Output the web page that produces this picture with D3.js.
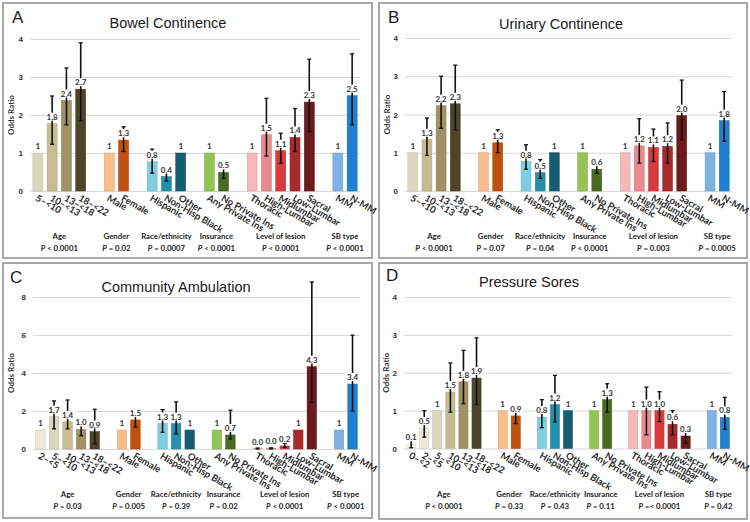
<!DOCTYPE html>
<html>
<head>
<meta charset="utf-8">
<script src="https://cdn.jsdelivr.net/npm/d3@7"></script>
<style>
  body { margin: 0; background: #fff; }
  svg { display: block; font-family: Lato, "Open Sans", sans-serif; }
  .title { font-family: "Liberation Sans", Arial, sans-serif; font-size: 14.5px; fill: #1a1a1a; }
  .letter { font-family: "Liberation Sans", Arial, sans-serif; font-size: 17px; fill: #1a1a1a; }
  .ytitle { font-size: 8px; font-weight: bold; fill: #333; }
  .tick text { font-size: 8px; font-weight: bold; fill: #333; }
  .vlabel { font-size: 8px; font-weight: bold; fill: #333; }
  .cat { font-size: 9.5px; font-weight: bold; fill: #2a2a2a; }
  .group { font-size: 7.8px; font-weight: bold; fill: #222; }
  .pval { font-size: 7.8px; font-weight: bold; fill: #222; }
</style>
</head>
<body>
<svg width="750" height="522"></svg>
<script>
// category lists
const ageBowel = ["5–<10", "10–<13", "13–<18", "18–<22"];
const ageAmbulation = ["2–<5", "5–<10", "10–<13", "13–<18", "18–<22"];
const ageSores = ["0–<2", "2–<5", "5–<10", "10–<13", "13–<18", "18–<22"];
const genderCats = ["Male", "Female"];
const raceCats = ["Hispanic", "Non-Hisp Black", "Other"];
const insuranceCats = ["Any Private Ins", "No Private Ins"];
const lesionCats = ["Thoracic", "High-Lumbar", "Midlumbar", "Low-Lumbar", "Sacral"];
const sbCats = ["MM", "N-MM"];
const groupNames = ["Age", "Gender", "Race/ethnicity", "Insurance", "Level of lesion", "SB type"];

// odds ratios with 95% CI (null = reference category)
const bowelOR   = [1, 1.77, 2.38, 2.68, 1, 1.34, 0.77, 0.38, 1, 1, 0.49, 1, 1.48, 1.06, 1.41, 2.34, 1, 2.51];
const bowelLow  = [null, 1.23, 1.74, 1.85, null, 1.04, 0.47, 0.26, null, null, 0.33, null, 0.92, 0.73, 1.04, 1.56, null, 1.74];
const bowelHigh = [null, 2.5, 3.24, 3.9, null, 1.69, 1.1, 0.5, null, null, 0.68, null, 2.44, 1.52, 2.17, 3.47, null, 3.61];
const bowelP = ["< 0.0001", "= 0.02", "= 0.0007", "< 0.0001", "< 0.0001", "< 0.0001"];

const urinaryOR   = [1, 1.34, 2.23, 2.28, 1, 1.26, 0.77, 0.48, 1, 1, 0.57, 1, 1.18, 1.14, 1.17, 1.97, 1, 1.84];
const urinaryLow  = [null, 0.93, 1.64, 1.6, null, 1.0, 0.57, 0.33, null, null, 0.46, null, 0.73, 0.77, 0.73, 1.34, null, 1.3];
const urinaryHigh = [null, 1.91, 3.0, 3.29, null, 1.6, 1.21, 0.82, null, null, 0.7, null, 1.89, 1.62, 1.78, 2.9, null, 2.6];
const urinaryP = ["< 0.0001", "= 0.07", "= 0.04", "< 0.0001", "= 0.003", "= 0.0005"];

const ambulationOR   = [1, 1.7, 1.43, 1.03, 0.92, 1, 1.53, 1.34, 1.34, 1, 1, 0.74, 0.02, 0.03, 0.16, 1, 4.33, 1, 3.42];
const ambulationLow  = [null, 1.06, 1.06, 0.7, 0.27, null, 1.15, 0.88, 0.8, null, null, 0.53, 0.0, 0.0, 0.08, null, 2.45, null, 2.0];
const ambulationHigh = [null, 2.53, 2.58, 1.45, 2.09, null, 1.95, 2.07, 2.48, null, null, 2.04, 0.05, 0.06, 0.3, null, 8.79, null, 5.99];
const ambulationP = ["= 0.03", "= 0.005", "= 0.39", "= 0.02", "< 0.0001", "< 0.0001"];

const soresOR   = [0.11, 0.54, 1, 1.49, 1.76, 1.86, 1, 0.86, 0.83, 1.16, 1, 1, 1.29, 1, 1.0, 1.0, 0.64, 0.33, 1, 0.82];
const soresLow  = [0.02, 0.3, null, 0.96, 1.18, 1.16, null, 0.66, 0.55, 0.7, null, null, 0.96, null, 0.36, 0.71, 0.36, 0.14, null, 0.51];
const soresHigh = [0.26, 1.0, null, 2.26, 2.59, 2.92, null, 1.08, 1.29, 1.93, null, null, 1.71, null, 1.62, 1.5, 1.0, 0.56, null, 1.35];
const soresP = ["< 0.0001", "= 0.33", "= 0.43", "= 0.11", "=< 0.0001", "= 0.42"];

const colors = {
  "0–<2": "#f6f3ea", "2–<5": "#ede8d8", "5–<10": "#ddd6bf", "10–<13": "#c7bb92",
  "13–<18": "#a09263", "18–<22": "#4e4528",
  "Male": "#fbbd8c", "Female": "#c0500f",
  "Hispanic": "#7dcfe1", "Non-Hisp Black": "#2491ac", "Other": "#165d74",
  "Any Private Ins": "#93c455", "No Private Ins": "#4a6b22",
  "Thoracic": "#f4b9ba", "High-Lumbar": "#e98a8c", "Midlumbar": "#d93a3d",
  "Low-Lumbar": "#a82a2d", "Sacral": "#6c1a1c",
  "MM": "#80b2e3", "N-MM": "#1f7fd0"
};

const panels = [
  { letter: "A", title: "Bowel Continence", age: ageBowel, or: bowelOR, lo: bowelLow, hi: bowelHigh, p: bowelP,
    yMax: 4, yTicks: [0, 1, 2, 3, 4], frame: [3, 3, 372, 258], xRange: [30, 360], yRange: [191, 39],
    letterPos: [12, 23], titlePos: [168, 28], yTitleX: 14 },
  { letter: "B", title: "Urinary Continence", age: ageBowel, or: urinaryOR, lo: urinaryLow, hi: urinaryHigh, p: urinaryP,
    yMax: 4, yTicks: [0, 1, 2, 3, 4], frame: [379, 3, 747, 258], xRange: [405, 732], yRange: [191, 38],
    letterPos: [388, 23], titlePos: [561, 29], yTitleX: 390 },
  { letter: "C", title: "Community Ambulation", age: ageAmbulation, or: ambulationOR, lo: ambulationLow, hi: ambulationHigh, p: ambulationP,
    yMax: 8, yTicks: [0, 2, 4, 6, 8], frame: [3, 263, 372, 518], xRange: [33, 360], yRange: [449, 297],
    letterPos: [10, 283], titlePos: [176, 292], yTitleX: 14 },
  { letter: "D", title: "Pressure Sores", age: ageSores, or: soresOR, lo: soresLow, hi: soresHigh, p: soresP,
    yMax: 4, yTicks: [0, 1, 2, 3, 4], frame: [379, 263, 747, 519], xRange: [404, 732], yRange: [448.5, 297],
    letterPos: [386, 281], titlePos: [529, 287], yTitleX: 389 }
];

const svg = d3.select("svg");

panels.forEach(drawPanel);

function drawPanel(p) {
  const g = svg.append("g");
  const groups = [p.age, genderCats, raceCats, insuranceCats, lesionCats, sbCats];

  g.append("rect")
    .attr("x", p.frame[0]).attr("y", p.frame[1])
    .attr("width", p.frame[2] - p.frame[0]).attr("height", p.frame[3] - p.frame[1])
    .attr("fill", "none").attr("stroke", "#a8a8a8").attr("stroke-width", 2);

  // blank slots between groups
  const slots = [];
  groups.forEach((cats, gi) => {
    if (gi) slots.push("gap" + gi);
    cats.forEach(c => slots.push(c));
  });

  const x = d3.scaleBand().domain(slots).range(p.xRange).paddingInner(0.3).paddingOuter(0.2);
  const y = d3.scaleLinear().domain([0, p.yMax]).range(p.yRange);
  const bw = x.bandwidth();
  const y0 = y(0);

  const yAxis = d3.axisLeft(y)
    .tickValues(p.yTicks)
    .tickSize(-(p.xRange[1] - p.xRange[0]))
    .tickPadding(7)
    .tickFormat(d3.format("d"));

  g.append("g")
    .attr("transform", `translate(${p.xRange[0]},0)`)
    .call(yAxis)
    .call(a => a.select(".domain").remove())
    .call(a => a.selectAll(".tick line").attr("stroke", "#d9d9d9"));

  g.append("text")
    .attr("class", "ytitle")
    .attr("text-anchor", "middle")
    .attr("transform", `translate(${p.yTitleX},${(p.yRange[0] + p.yRange[1]) / 2}) rotate(-90)`)
    .text("Odds Ratio");

  const rows = groups.flat().map((c, i) => ({ cat: c, or: p.or[i], lo: p.lo[i], hi: p.hi[i] }));

  g.selectAll(".bar")
    .data(rows)
    .enter().append("rect")
    .attr("class", "bar")
    .attr("x", d => x(d.cat))
    .attr("width", bw)
    .attr("y", d => y(d.or))
    .attr("height", d => y0 - y(d.or))
    .attr("fill", d => colors[d.cat])
    .attr("stroke", d => d3.color(colors[d.cat]).darker(0.4))
    .attr("stroke-width", 0.5);

  const withCI = rows.filter(d => d.lo !== null);
  const cx = d => x(d.cat) + bw / 2;

  g.selectAll(".err")
    .data(withCI)
    .enter().append("line")
    .attr("class", "err")
    .attr("x1", cx).attr("x2", cx)
    .attr("y1", d => y(d.lo)).attr("y2", d => y(d.hi))
    .attr("stroke", "#111").attr("stroke-width", 1.6);

  ["lo", "hi"].forEach(k => {
    g.selectAll(".cap-" + k)
      .data(withCI)
      .enter().append("line")
      .attr("class", "cap-" + k)
      .attr("x1", d => cx(d) - 2).attr("x2", d => cx(d) + 2)
      .attr("y1", d => y(d[k])).attr("y2", d => y(d[k]))
      .attr("stroke", "#111").attr("stroke-width", 1.3);
  });

  // value labels on a white box, covering the error line
  const lab = g.selectAll(".vl")
    .data(rows)
    .enter().append("g")
    .attr("class", "vl");

  lab.append("text")
    .attr("class", "vlabel")
    .attr("text-anchor", "middle")
    .attr("x", cx)
    .attr("y", d => y(d.or) - 4)
    .text(d => d.lo === null ? "1" : d.or.toFixed(1));

  lab.each(function() {
    const t = d3.select(this).select("text");
    const b = t.node().getBBox();
    d3.select(this).insert("rect", "text")
      .attr("x", b.x - 1).attr("y", b.y + 1)
      .attr("width", b.width + 2).attr("height", b.height - 2)
      .attr("fill", "#fff");
  });

  g.selectAll(".cat")
    .data(rows)
    .enter().append("text")
    .attr("class", "cat")
    .attr("transform", d => `translate(${cx(d) - 3},${y0 + 9}) rotate(30)`)
    .text(d => d.cat);

  groups.forEach((cats, gi) => {
    const mid = (x(cats[0]) + x(cats[cats.length - 1]) + bw) / 2;
    g.append("text")
      .attr("class", "group")
      .attr("text-anchor", "middle")
      .attr("x", mid).attr("y", y0 + 48)
      .text(groupNames[gi]);
    const pt = g.append("text")
      .attr("class", "pval")
      .attr("text-anchor", "middle")
      .attr("x", mid).attr("y", y0 + 60);
    pt.append("tspan").attr("font-style", "italic").text("P");
    pt.append("tspan").text(" " + p.p[gi]);
  });

  g.append("text")
    .attr("class", "letter")
    .attr("x", p.letterPos[0]).attr("y", p.letterPos[1])
    .text(p.letter);

  g.append("text")
    .attr("class", "title")
    .attr("text-anchor", "middle")
    .attr("x", p.titlePos[0]).attr("y", p.titlePos[1])
    .text(p.title);
}
</script>
</body>
</html>
